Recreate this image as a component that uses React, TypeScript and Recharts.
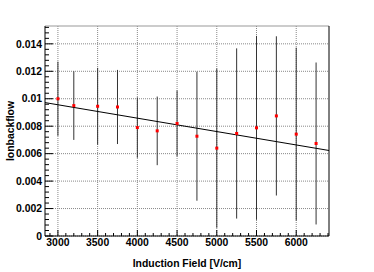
import React from "react";
import {
	ComposedChart,
	Scatter,
	Line,
	XAxis,
	YAxis,
	CartesianGrid,
	ErrorBar,
	ReferenceLine,
	Label,
} from "recharts";

// induction field [V/cm]
const fields = [3000, 3200, 3500, 3750, 4000, 4250, 4500, 4750, 5000, 5250, 5500, 5750, 6000, 6250];
// ion backflow
const ibf = [0.01, 0.0095, 0.00945, 0.0094, 0.0079, 0.00766, 0.0082, 0.00727, 0.0064, 0.00747, 0.00788, 0.00875, 0.00742, 0.00674];
const ibfErr = [0.0027, 0.0025, 0.0028, 0.0027, 0.0022, 0.0025, 0.0024, 0.0047, 0.0058, 0.0062, 0.0067, 0.0058, 0.0063, 0.0059];

// linear fit end points
const fitFields = [2837.5, 6412.5];
const fitIbf = [0.00972, 0.00623];

const xMajorTicks = [3000, 3500, 4000, 4500, 5000, 5500, 6000];
const yMajorTicks = [0, 0.002, 0.004, 0.006, 0.008, 0.01, 0.012, 0.014];

const X_MIN = 2837.5;
const X_MAX = 6412.5;
const Y_MAX = 0.0153;

const points = fields.map((f, i) => ({ field: f, ibf: ibf[i], err: ibfErr[i] }));
const fitData = fitFields.map((f, i) => ({ field: f, ibf: fitIbf[i] }));

const xTicks: number[] = [];
for (let v = 2900; v <= 6400; v += 100) xTicks.push(v);
const yTicks: number[] = [];
for (let i = 0; i * 0.0004 <= Y_MAX; i++) yTicks.push(Number((i * 0.0004).toFixed(4)));

const font = "'Liberation Sans', Arial, Helvetica, sans-serif";

const XTick = (props: any) => {
	const { x, y, payload } = props;
	const major = payload.value % 500 === 0;
	return (
		<g>
			<line x1={x} x2={x} y1={y} y2={y - (major ? 6 : 3)} stroke="#000" />
			{major && (
				<text x={x} y={y + 10} textAnchor="middle" fontFamily={font} fontWeight="bold" fontSize={10.4} fill="#000">
					{payload.value}
				</text>
			)}
		</g>
	);
};

const YTick = (props: any) => {
	const { x, y, payload } = props;
	const q = payload.value / 0.002;
	const major = Math.abs(q - Math.round(q)) < 1e-6;
	return (
		<g>
			<line x1={x} x2={x + (major ? 8 : 4)} y1={y} y2={y} stroke="#000" />
			{major && (
				<text x={x - 3} y={y + 3.7} textAnchor="end" fontFamily={font} fontWeight="bold" fontSize={10.4} fill="#000">
					{String(Number(payload.value.toFixed(3)))}
				</text>
			)}
		</g>
	);
};

const Marker = (props: any) => {
	const { cx, cy } = props;
	return <rect x={cx - 1.5} y={cy - 1.5} width={3} height={3} fill="#ff0000" />;
};

export default function App() {
	return (
		<div style={{ position: "absolute", left: 0, top: 0, width: 374, height: 272, background: "#fff" }}>
			<ComposedChart width={374} height={272} margin={{ top: 26, right: 45, bottom: 0, left: 0 }}>
				<CartesianGrid
					stroke="#888"
					strokeDasharray="1 1"
					horizontalValues={yMajorTicks}
					verticalValues={xMajorTicks}
				/>
				<XAxis
					type="number"
					dataKey="field"
					domain={[X_MIN, X_MAX]}
					ticks={xTicks}
					allowDataOverflow
					height={36}
					tickSize={0}
					tickMargin={0}
					tick={<XTick />}
					stroke="#000"
					interval={0}
				>
					<Label
						content={(p: any) => (
							<text
								x={p.viewBox.x + p.viewBox.width / 2}
								y={267}
								textAnchor="middle"
								fontFamily={font}
								fontWeight="bold"
								fontSize={10.4}
								fill="#000"
							>
								Induction Field [V/cm]
							</text>
						)}
					/>
				</XAxis>
				<YAxis
					type="number"
					domain={[0, Y_MAX]}
					ticks={yTicks}
					allowDataOverflow
					width={45}
					tickSize={0}
					tickMargin={0}
					tick={<YTick />}
					stroke="#000"
					interval={0}
				>
					<Label
						content={(p: any) => {
							const cy = p.viewBox.y + p.viewBox.height / 2;
							return (
								<text
									x={14}
									y={cy}
									transform={`rotate(-90 14 ${cy})`}
									textAnchor="middle"
									fontFamily={font}
									fontWeight="bold"
									fontSize={10.4}
									fill="#000"
								>
									Ionbackflow
								</text>
							);
						}}
					/>
				</YAxis>
				<ReferenceLine y={Y_MAX} stroke="#999" />
				<ReferenceLine x={X_MAX} stroke="#000" />
				<Scatter data={points} dataKey="ibf" shape={<Marker />} isAnimationActive={false}>
					<ErrorBar dataKey="err" direction="y" width={0} stroke="#333" strokeWidth={1} />
				</Scatter>
				<Line
					data={fitData}
					dataKey="ibf"
					type="linear"
					stroke="#000"
					strokeWidth={1}
					dot={false}
					activeDot={false}
					isAnimationActive={false}
				/>
			</ComposedChart>
		</div>
	);
}
